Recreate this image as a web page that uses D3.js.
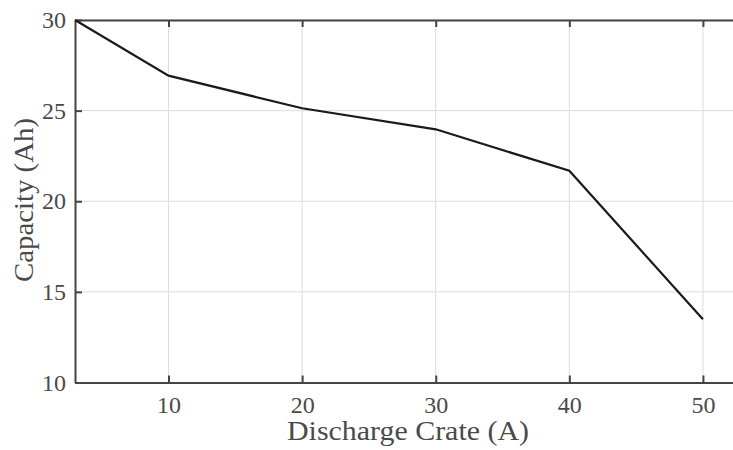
<!DOCTYPE html>
<html><head><meta charset="utf-8">
<script src="https://cdn.jsdelivr.net/npm/d3@7"></script>
<style>body{margin:0;background:#fff}svg{display:block}text{font-family:"Liberation Serif","DejaVu Serif",serif;fill:#4a4a4a}</style>
</head><body>
<script>
const xValues = [3, 10, 20, 30, 40, 50];
const capacity = [30, 26.93, 25.13, 23.97, 21.68, 13.49];
const xTicks = [10, 20, 30, 40, 50];
const yTicks = [10, 15, 20, 25, 30];
const xLabel = "Discharge Crate (A)";
const yLabel = "Capacity (Ah)";

const W = 733, H = 450;
const L = 75, T = 20, R = 735, B = 382.5;
const svg = d3.select("body").append("svg").attr("width", W).attr("height", H);
const x = d3.scaleLinear().domain([3, 52.4]).range([L, R]);
const y = d3.scaleLinear().domain([10, 30]).range([B, T]);

// grid
svg.append("g").selectAll("line").data(xTicks).join("line")
  .attr("x1", d => x(d)).attr("x2", d => x(d)).attr("y1", T).attr("y2", B)
  .attr("stroke", "#dcdcdc").attr("stroke-width", 1);
svg.append("g").selectAll("line").data(yTicks).join("line")
  .attr("x1", L).attr("x2", R).attr("y1", d => y(d)).attr("y2", d => y(d))
  .attr("stroke", "#dcdcdc").attr("stroke-width", 1);

// axes
const ax = (g) => g.call(s => s.select(".domain").attr("stroke", "#444").attr("stroke-width", 2))
  .call(s => s.selectAll(".tick line").attr("stroke", "#444").attr("stroke-width", 2))
  .call(s => s.selectAll("text").style("font-size", "24px").attr("fill", "#4a4a4a")
    .style("font-family", '"Liberation Serif","DejaVu Serif",serif'));

svg.append("g").attr("transform", `translate(0,${B})`)
  .call(d3.axisBottom(x).tickValues(xTicks).tickSizeInner(-7).tickSizeOuter(0).tickPadding(13))
  .call(ax);
svg.append("g").attr("transform", `translate(0,${T})`)
  .call(d3.axisTop(x).tickValues(xTicks).tickSizeInner(-7).tickSizeOuter(0).tickFormat(""))
  .call(ax);
svg.append("g").attr("transform", `translate(${L},0)`)
  .call(d3.axisLeft(y).tickValues(yTicks).tickSizeInner(-7).tickSizeOuter(0).tickPadding(9))
  .call(ax);

// line
const data = xValues.map((v, i) => [v, capacity[i]]);
svg.append("path").datum(data)
  .attr("fill", "none").attr("stroke", "#1a1a1a").attr("stroke-width", 2.2)
  .attr("d", d3.line().x(d => x(d[0])).y(d => y(d[1])));

// labels
svg.append("text").attr("x", 287).attr("y", 440)
  .attr("textLength", 242).attr("lengthAdjust", "spacingAndGlyphs")
  .style("font-size", "27px").text(xLabel);
svg.append("text").attr("transform", `translate(33,282) rotate(-90)`)
  .attr("textLength", 164).attr("lengthAdjust", "spacingAndGlyphs")
  .style("font-size", "27px").text(yLabel);
</script>
</body></html>
